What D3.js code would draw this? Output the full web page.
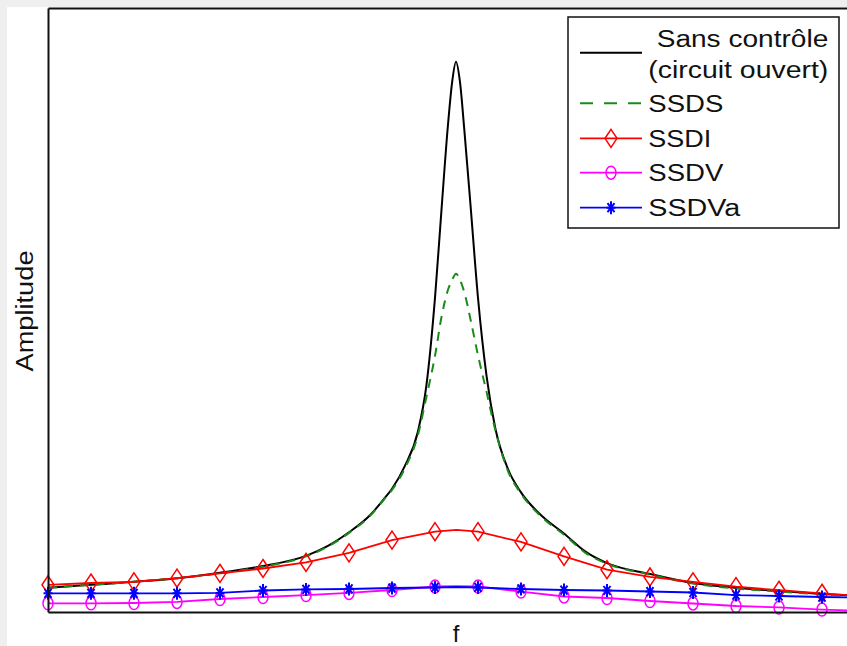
<!DOCTYPE html>
<html>
<head>
<meta charset="utf-8">
<script src="https://cdn.jsdelivr.net/npm/d3@7"></script>
<style>
  body { margin: 0; background: #efefef; }
  text { font-family: "Liberation Sans", Arial, sans-serif; fill: #111; }
</style>
</head>
<body>
<div id="chart"></div>
<script>
// frequency index (marker positions are the integers)
var fs = [0, 1, 2, 3, 4, 5, 6, 6.5, 7, 7.5, 7.8, 8, 8.3, 8.6, 8.8, 9.0, 9.15, 9.3, 9.4, 9.488,
          9.58, 9.68, 9.83, 10.0, 10.2, 10.4, 10.7, 11.0, 11.5, 12, 12.5, 13, 14, 15, 16, 17, 18, 19];
var sansControle = [4.0, 4.5, 5.0, 5.6, 6.5, 7.6, 9.3, 10.9, 13.2, 16.1, 18.6, 20.4, 24.2, 29.8, 37.5, 52.0, 66.5, 80.5, 87.8, 91.1,
                    87.8, 80.0, 67.0, 52.0, 39.0, 30.5, 23.6, 19.8, 15.8, 13.0, 10.0, 8.1, 6.3, 4.8, 4.0, 3.5, 3.0, 2.6];
var ssds = [4.0, 4.5, 5.0, 5.6, 6.4, 7.5, 9.2, 10.8, 13.1, 16.0, 18.5, 20.2, 23.8, 29.2, 35.6, 42.4, 48.8, 53.3, 55.0, 56.0,
            55.0, 53.0, 48.3, 42.5, 36.4, 30.2, 23.3, 19.6, 15.6, 12.8, 9.8, 8.0, 6.2, 4.7, 3.9, 3.4, 2.9, 2.5];

var fm = [0, 1, 2, 3, 4, 5, 6, 7, 8, 9, 9.5, 10, 11, 12, 13, 14, 15, 16, 17, 18, 19];
var ssdi  = [4.5, 4.8, 5.0, 5.6, 6.4, 7.2, 8.2, 9.8, 11.9, 13.3, 13.6, 13.3, 11.6, 9.2, 7.0, 5.8, 5.0, 4.2, 3.6, 3.1, 2.6];
var ssdv  = [1.44, 1.44, 1.49, 1.66, 2.15, 2.48, 2.81, 3.15, 3.64, 4.22, 4.30, 4.22, 3.39, 2.57, 2.32, 1.82, 1.41, 0.99, 0.75, 0.41, 0.17];
var ssdva = [3.1, 3.1, 3.1, 3.1, 3.15, 3.56, 3.73, 3.81, 3.97, 4.06, 4.14, 4.06, 3.81, 3.64, 3.56, 3.39, 3.23, 2.81, 2.65, 2.48, 2.40];

var legendLabels = ['Sans contrôle', '(circuit ouvert)', 'SSDS', 'SSDI', 'SSDV', 'SSDVa'];

var width = 847, height = 646;
var x = d3.scaleLinear().domain([0, 19]).range([48, 865]);
var y = d3.scaleLinear().domain([0, 100]).range([612, 8]);

var svg = d3.select('#chart').append('svg')
    .attr('width', width)
    .attr('height', height);

// light grey frame with white figure area
svg.append('rect').attr('width', width).attr('height', height).attr('fill', '#efefef');
svg.append('rect').attr('x', 7).attr('y', 7).attr('width', width - 7).attr('height', height - 7).attr('fill', '#fff');

function pairs(xs, ys){
    return xs.map(function(v, i){ return [v, ys[i]]; });
}

var series = [
    {xs: fs, ys: sansControle, color: '#000', width: 2, dash: null, legendDash: null, marker: null, curve: d3.curveMonotoneX},
    {xs: fs, ys: ssds, color: '#1a8a1a', width: 2, dash: '9,7', legendDash: '13,11', marker: null, curve: d3.curveMonotoneX},
    {xs: fm, ys: ssdi, color: '#ff0000', width: 1.8, dash: null, legendDash: null, marker: 'diamond', curve: d3.curveLinear},
    {xs: fm, ys: ssdv, color: '#ff00ff', width: 1.8, dash: null, legendDash: null, marker: 'circle', curve: d3.curveLinear},
    {xs: fm, ys: ssdva, color: '#0000ff', width: 1.8, dash: null, legendDash: null, marker: 'star', curve: d3.curveLinear}
];

// marker shapes (slightly taller than wide, like the source)
function markerPath(type){
    if (type === 'diamond') return 'M0,-9L6,0L0,9L-6,0Z';
    if (type === 'circle') return 'M-5,0A5,6.5 0 1,0 5,0A5,6.5 0 1,0 -5,0Z';
    return 'M0,-6.5L0,6.5M-4.5,0L4.5,0M-3.5,-4.5L3.5,4.5M-3.5,4.5L3.5,-4.5';
}

series.forEach(function(s){
    var line = d3.line()
        .curve(s.curve)
        .x(function(d){ return x(d[0]); })
        .y(function(d){ return y(d[1]); });
    svg.append('path')
        .attr('d', line(pairs(s.xs, s.ys)))
        .attr('fill', 'none')
        .attr('stroke', s.color)
        .attr('stroke-width', s.width)
        .attr('stroke-dasharray', s.dash);
    if (s.marker) {
        svg.selectAll(null)
            .data(pairs(s.xs, s.ys).filter(function(d){ return Number.isInteger(d[0]); }))
            .enter()
            .append('path')
            .attr('transform', function(d){ return 'translate(' + x(d[0]) + ',' + y(d[1]) + ')'; })
            .attr('d', markerPath(s.marker))
            .attr('fill', 'none')
            .attr('stroke', s.color)
            .attr('stroke-width', s.marker === 'star' ? 2 : 1.5);
    }
});

// axes box, no ticks
var axisStyle = function(g){
    g.select('.domain').attr('stroke', '#111').attr('stroke-width', 2);
};
svg.append('g').attr('transform', 'translate(0,612)')
    .call(d3.axisBottom(x).tickValues([]).tickSizeOuter(0)).call(axisStyle);
svg.append('g').attr('transform', 'translate(0,8)')
    .call(d3.axisTop(x).tickValues([]).tickSizeOuter(0)).call(axisStyle);
svg.append('g').attr('transform', 'translate(48,0)')
    .call(d3.axisLeft(y).tickValues([]).tickSizeOuter(0)).call(axisStyle);

// axis labels
svg.append('text')
    .attr('x', 456).attr('y', 642)
    .attr('text-anchor', 'middle')
    .style('font-size', '24px')
    .text('f');
svg.append('text')
    .attr('transform', 'translate(33,311) rotate(-90)')
    .attr('text-anchor', 'middle')
    .attr('textLength', 121)
    .attr('lengthAdjust', 'spacingAndGlyphs')
    .style('font-size', '23px')
    .text('Amplitude');

// legend
var legend = svg.append('g');
legend.append('rect')
    .attr('x', 568).attr('y', 17).attr('width', 271).attr('height', 211)
    .attr('fill', '#fff').attr('stroke', '#111').attr('stroke-width', 1.5);

var legendRows = [
    {s: series[0], ly: 52.7, label: legendLabels[0], tx: 656.7, ty: 46.7, tl: 171.6},
    {s: null, ly: null, label: legendLabels[1], tx: 648.3, ty: 78.3, tl: 180},
    {s: series[1], ly: 103.3, label: legendLabels[2], tx: 648.3, ty: 111.7, tl: 75},
    {s: series[2], ly: 138.3, label: legendLabels[3], tx: 648.3, ty: 147, tl: 63},
    {s: series[3], ly: 172.7, label: legendLabels[4], tx: 648.3, ty: 181, tl: 75},
    {s: series[4], ly: 207.7, label: legendLabels[5], tx: 648.3, ty: 216, tl: 92}
];

legendRows.forEach(function(r){
    if (r.s) {
        legend.append('line')
            .attr('x1', 580).attr('x2', 642).attr('y1', r.ly).attr('y2', r.ly)
            .attr('stroke', r.s.color)
            .attr('stroke-width', r.s.width)
            .attr('stroke-dasharray', r.s.legendDash);
        if (r.s.marker) {
            legend.append('path')
                .attr('transform', 'translate(611,' + r.ly + ')')
                .attr('d', markerPath(r.s.marker))
                .attr('fill', 'none')
                .attr('stroke', r.s.color)
                .attr('stroke-width', r.s.marker === 'star' ? 2 : 1.5);
        }
    }
    legend.append('text')
        .attr('x', r.tx).attr('y', r.ty)
        .attr('textLength', r.tl)
        .attr('lengthAdjust', 'spacingAndGlyphs')
        .style('font-size', '23px')
        .text(r.label);
});
</script>
</body>
</html>
